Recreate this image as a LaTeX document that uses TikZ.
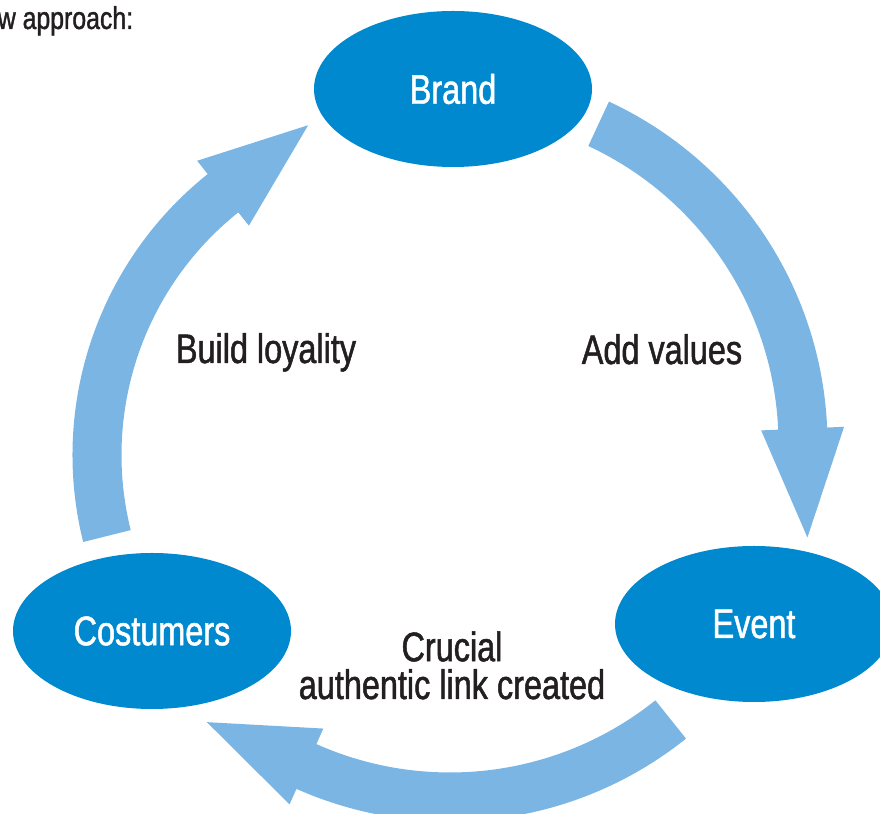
\documentclass[tikz,border=0pt]{standalone}
\usepackage{fontspec}
\setmainfont{Liberation Sans}[FakeStretch=0.785, FakeBold=1.2]
\usepackage{tikz}
\usetikzlibrary{shapes, calc}
\usepackage{xcolor}
\definecolor{ringblue}{HTML}{7AB5E3}
\definecolor{stageblue}{HTML}{0089CF}
\definecolor{inktext}{HTML}{231F20}

% thick curved arrow running clockwise round a centre
% #1 = centre, #2 = radius of the middle line, #3 = tail angle, #4 = angle where the head starts
\newcommand\ringarrow[4]{
  \fill[ringblue] ($(#1)+(#3:{#2+0.49})$) arc[start angle=#3, end angle=#4, radius={#2+0.49}]
      -- ($(#1)+(#4:{#2+0.83})$)
      -- ($(#1)+(#4:#2)+({#4-90}:2.18)$)
      -- ($(#1)+(#4:{#2-0.83})$)
      -- ($(#1)+(#4:{#2-0.49})$) arc[start angle=#4, end angle=#3, radius={#2-0.49}]
      -- cycle;
}

\tikzset{
  stage/.style={ellipse, fill=stageblue, text=white, minimum width=5.56cm, minimum height=3.12cm,
    inner sep=0pt, font=\fontsize{23.5}{27}\selectfont},
  caption/.style={text=inktext, inner sep=0pt, align=center, font=\fontsize{23.5}{21.5}\selectfont}
}

\begin{document}
\begin{tikzpicture}
    \useasboundingbox (0,0) rectangle (17.6,16.28);
    \clip (0,0) rectangle (17.6,16.28);

    \coordinate (hub) at (9.0,7.40);
    \coordinate (lefthub) at (8.64,7.18); % left arrow bends a little tighter

    \ringarrow{hub}{7.06}{65.1}{2.5}
    \ringarrow{hub}{7.06}{-51.3}{-114.0}
    \ringarrow{lefthub}{6.70}{194.0}{128.6}

    \node[stage] (brand) at (9.06,14.50) {Brand};
    \node[stage] (event) at (15.08,3.80) {Event};
    \node[stage] (costumers) at (3.04,3.66) {Costumers};

    \node[caption, anchor=base] (loyalty) at (5.32,9.02) {Build loyality};
    \node[caption, anchor=base] (values) at (13.24,9.0) {Add values};
    \node[caption, anchor=base] (link) at (9.04,2.30) {Crucial\\authentic link created};

    \node[anchor=base west, inner sep=0pt, text=inktext, font=\fontsize{18}{20}\selectfont] (heading) at (-0.05,15.70) {w approach:};
\end{tikzpicture}
\end{document}
